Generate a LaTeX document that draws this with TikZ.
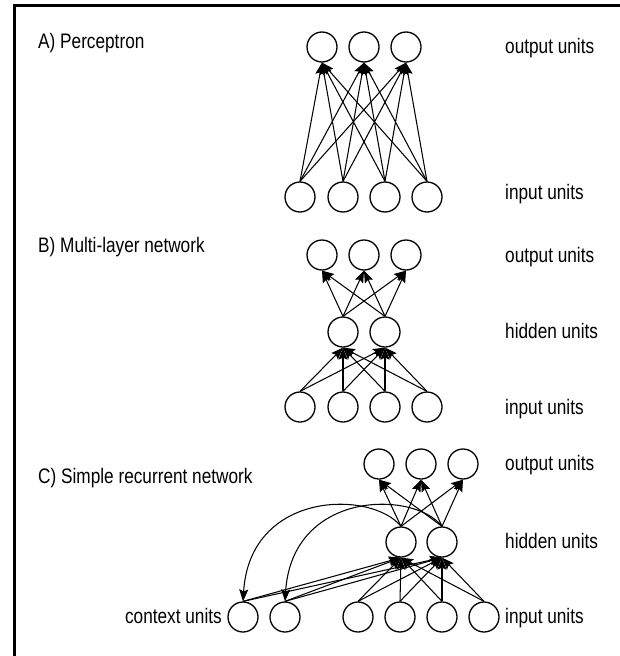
\documentclass[tikz,border=0pt]{standalone}
\usepackage{fontspec}
\setmainfont{Liberation Sans}[FakeStretch=0.82]
\usetikzlibrary{arrows.meta}
\begin{document}
\begin{tikzpicture}[x=1pt,y=-1pt,
  unit/.style={circle,draw,line width=1.3pt,minimum size=30pt,inner sep=0pt},
  lbl/.style={anchor=base west,inner sep=0pt,font=\fontsize{21}{25}\selectfont},
  lblr/.style={anchor=base east,inner sep=0pt,font=\fontsize{21}{25}\selectfont},
  conn/.style={line width=1.05pt,-{Stealth[length=12pt,width=9pt,inset=2pt]}},
]
\useasboundingbox (0,0) rectangle (620,656);
\draw[line width=2.6pt] (14.5,656) -- (14.5,5.5) -- (620,5.5);

% ---------- A) Perceptron
\node[lbl] (ta) at (38,48) {A) Perceptron};
\node[lbl] (aol) at (505,53) {output units};
\node[lbl] (ail) at (505,199) {input units};
\foreach \n/\x in {1/322,2/364,3/406} \node[unit] (ao\n) at (\x,47) {};
\foreach \n/\x in {1/300,2/343,3/385,4/427} \node[unit] (ai\n) at (\x,197) {};
\foreach \i in {1,...,4} \foreach \o in {1,2,3} \draw[conn] (ai\i.north) -- (ao\o.south);

% ---------- B) Multi-layer network
\node[lbl] (tb) at (38,252) {B) Multi-layer network};
\node[lbl] (bol) at (505,262) {output units};
\node[lbl] (bhl) at (505,338) {hidden units};
\node[lbl] (bil) at (505,414) {input units};
\foreach \n/\x in {1/322,2/364,3/406} \node[unit] (bo\n) at (\x,255) {};
\foreach \n/\x in {1/343,2/385} \node[unit] (bh\n) at (\x,332) {};
\foreach \n/\x in {1/300,2/343,3/385,4/427} \node[unit] (bi\n) at (\x,407) {};
\foreach \i in {1,...,4} \foreach \h in {1,2} \draw[conn] (bi\i.north) -- (bh\h.south);
\foreach \h in {1,2} \foreach \o in {1,2,3} \draw[conn] (bh\h.north) -- (bo\o.south);

% ---------- C) Simple recurrent network
\node[lbl] (tc) at (38,483) {C) Simple recurrent network};
\node[lbl] (col) at (505,470) {output units};
\node[lbl] (chl) at (505,548) {hidden units};
\node[lbl] (cil) at (505,623) {input units};
\node[lblr] (ccl) at (222,623) {context units};
\foreach \n/\x in {1/379,2/421,3/463} \node[unit] (co\n) at (\x,464) {};
\foreach \n/\x in {1/401,2/442} \node[unit] (ch\n) at (\x,542) {};
\foreach \n/\x in {1/358,2/400,3/442,4/484} \node[unit] (ci\n) at (\x,617) {};
\foreach \n/\x in {1/243,2/285} \node[unit] (cc\n) at (\x,617) {};
\foreach \i in {1,...,4} \foreach \h in {1,2} \draw[conn] (ci\i.north) -- (ch\h.south);
\foreach \i in {1,2} \foreach \h in {1,2} \draw[conn] (cc\i.north) -- (ch\h.south);
\foreach \h in {1,2} \foreach \o in {1,2,3} \draw[conn] (ch\h.north) -- (co\o.south);
\draw[conn] (ch1.north) .. controls (372,490) and (250,490) .. (cc1.north);
\draw[conn] (ch2.north) .. controls (414,490) and (292,490) .. (cc2.north);
\end{tikzpicture}
\end{document}
